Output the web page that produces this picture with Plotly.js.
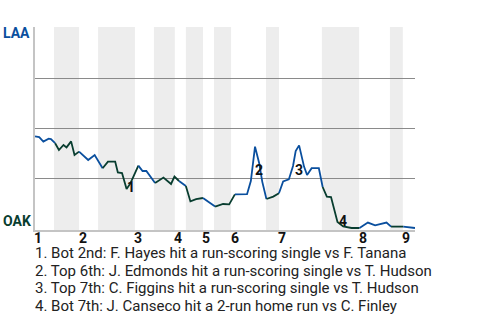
<!DOCTYPE html>
<html>
<head>
<meta charset="utf-8">
<script src="https://cdn.plot.ly/plotly-3.0.1.min.js"></script>
<style>
  html, body { margin: 0; padding: 0; background: #fff; }
  #chart { width: 480px; height: 320px; }
</style>
</head>
<body>
<div id="chart"></div>
<script>
// Game progress (0-100) and LAA win probability (%)
const progress = [0,1.1,2.2,3.6,4.2,5.3,6.3,7.5,8.3,9.5,
  10.4,11.6,14.0,15.7,17.8,19.2,21.1,21.8,22.9,24.1,
  25.1,27.2,28.3,29.3,31.6,33.8,35.8,36.7,37.9,39.7,
  40.9,42.4,44.2,47.4,49.5,51.1,52.6,55.8,56.8,57.9,
  59.0,59.8,60.9,62.7,64.2,65.3,66.8,67.9,68.6,69.5,
  70.8,71.6,72.8,74.7,75.7,76.8,77.9,79.6,81.1,83.3,
  85.4,87.6,89.5,92.5,93.7,96.9,100];
const laaWinPct = [45.8,45.4,43.2,44.7,44.5,42.4,39.0,41.5,40.3,43.3,
  36.5,38.2,34.0,36.5,29.9,33.2,33.2,27.8,27.5,19.5,
  22.3,31.2,28.5,28.5,22.5,25.2,22.0,25.7,23.5,21.0,
  13.3,14.4,15.0,10.7,12.0,11.8,16.8,16.9,23.5,40.7,
  32.4,23.2,14.5,15.7,17.4,23.3,24.3,31.0,38.5,41.3,
  30.7,26.5,29.9,29.9,20.5,15.7,15.5,3.0,0.8,0.0,
  0.0,2.7,1.3,2.7,0.7,0.7,0.0];

// Start of each half-inning (top 1st, bot 1st, top 2nd, ...)
const halfInningStarts = [0,5.0,11.6,16.6,26.3,31.3,36.8,39.7,44.2,47.1,51.6,60.8,64.2,75.5,85.3,93.4,96.8];
const gameEnd = 100;
const inningLabels = ['1','2','3','4','5','6','7','8','9'];

// Key events
const eventNumbers = ['1','2','3','4'];
const eventX = [25.3, 58.9, 69.5, 81.1];
const eventY = [20.5, 29.0, 29.0, 3.5];
const eventTexts = [
  '1. Bot 2nd: F. Hayes hit a run-scoring single vs F. Tanana',
  '2. Top 6th: J. Edmonds hit a run-scoring single vs T. Hudson',
  '3. Top 7th: C. Figgins hit a run-scoring single vs T. Hudson',
  '4. Bot 7th: J. Canseco hit a 2-run home run vs C. Finley'
];

const BLUE = '#0a4f9e';
const GREEN = '#083d2f';

function halfIndex(x) {
  let j = 0;
  for (let k = 0; k < halfInningStarts.length; k++) {
    if (x >= halfInningStarts[k] - 1e-9) j = k;
  }
  return j;
}

// Build line traces: segment colour follows the half-inning of its start point
const traces = [];
let cur = null;
for (let i = 0; i < progress.length - 1; i++) {
  const color = (halfIndex(progress[i]) % 2 === 1) ? GREEN : BLUE;
  if (!cur || cur.color !== color) {
    cur = { color: color, x: [progress[i]], y: [laaWinPct[i]] };
    traces.push(cur);
  }
  cur.x.push(progress[i + 1]);
  cur.y.push(laaWinPct[i + 1]);
}
const data = traces.map(t => ({
  type: 'scatter', mode: 'lines', x: t.x, y: t.y,
  line: { color: t.color, width: 1.8 }, hoverinfo: 'skip', showlegend: false
}));

// Shaded bottom halves
const shapes = [];
for (let k = 1; k < halfInningStarts.length; k += 2) {
  const x1 = (k + 1 < halfInningStarts.length) ? halfInningStarts[k + 1] : gameEnd;
  shapes.push({
    type: 'rect', xref: 'x', yref: 'paper', x0: halfInningStarts[k], x1: x1, y0: 0, y1: 1,
    fillcolor: '#ededed', line: { width: 0 }, layer: 'below'
  });
}

const annotations = [];
// Inning labels
for (let i = 0; i < inningLabels.length; i++) {
  annotations.push({
    x: halfInningStarts[2 * i] + 0.9, xref: 'x', y: 0, yref: 'paper', yshift: -8,
    text: '<b>' + inningLabels[i] + '</b>', showarrow: false, xanchor: 'center', yanchor: 'middle',
    font: { family: 'Roboto', size: 14, color: '#111' }
  });
}
// Event markers
for (let i = 0; i < eventNumbers.length; i++) {
  annotations.push({
    x: eventX[i], y: eventY[i], xref: 'x', yref: 'y', text: '<b>' + eventNumbers[i] + '</b>',
    showarrow: false, xanchor: 'center', yanchor: 'middle',
    font: { family: 'Roboto', size: 14, color: '#111' }
  });
}
// Event descriptions
for (let i = 0; i < eventTexts.length; i++) {
  annotations.push({
    x: 0, xref: 'paper', xanchor: 'left', xshift: -2,
    y: 0, yref: 'paper', yanchor: 'middle', yshift: -23 - 17.7 * i,
    text: eventTexts[i], showarrow: false,
    font: { family: 'Roboto', size: 15, color: '#222' }
  });
}
// Team labels
annotations.push({
  x: 0, xref: 'paper', xanchor: 'center', xshift: -19,
  y: 1, yref: 'paper', yanchor: 'middle', yshift: -6,
  text: '<b>LAA</b>', showarrow: false,
  font: { family: 'Roboto', size: 14, color: '#0a4f9e' }
});
annotations.push({
  x: 0, xref: 'paper', xanchor: 'center', xshift: -18,
  y: 0, yref: 'paper', yanchor: 'middle', yshift: 9,
  text: '<b>OAK</b>', showarrow: false,
  font: { family: 'Roboto', size: 14, color: '#083d2f' }
});

const layout = {
  width: 480, height: 320,
  margin: { l: 35, r: 65, t: 27, b: 90, pad: 0 },
  paper_bgcolor: '#fff', plot_bgcolor: '#fff',
  showlegend: false,
  xaxis: {
    range: [0, gameEnd], showgrid: false, zeroline: false, showticklabels: false,
    ticks: '', showline: true, linecolor: '#c4c4c4', linewidth: 2, fixedrange: true
  },
  yaxis: {
    range: [-1, 100.5], tickvals: [25, 50, 75, 100], showticklabels: false,
    gridcolor: '#8a8a8a', gridwidth: 1, zeroline: false, ticks: '',
    showline: true, linecolor: '#c4c4c4', linewidth: 2, fixedrange: true
  },
  shapes: shapes,
  annotations: annotations
};

Plotly.newPlot('chart', data, layout, { displayModeBar: false, staticPlot: true });
</script>
</body>
</html>
